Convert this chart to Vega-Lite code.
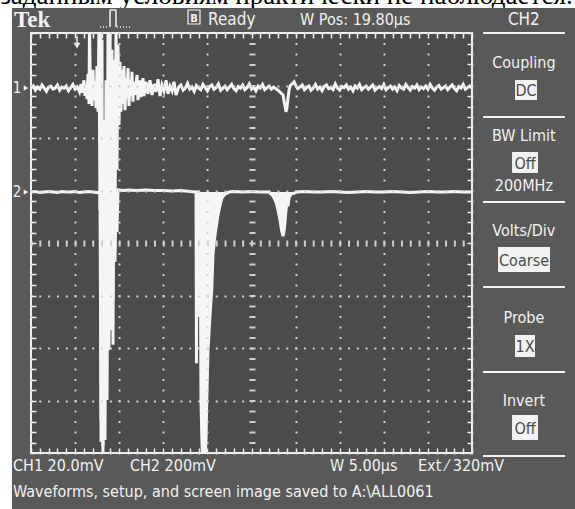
{
"$schema":"https://vega.github.io/schema/vega-lite/v6.json",
"width":441,"height":420,
"autosize":{"type":"none"},
"padding":{"left":31,"top":33,"right":103,"bottom":56},
"background":"#ffffff",
"config":{"view":{"stroke":null},"text":{"font":"DejaVu Sans Condensed, Roboto, sans-serif","color":"#f2f2f2","baseline":"alphabetic"}},
"data":{"values":[{}]},
"datasets":{
"ch1":[{"t":0,"v":2.95},{"t":0.25,"v":2.99},{"t":0.5,"v":2.91},{"t":0.75,"v":2.97},{"t":1,"v":2.93},{"t":1.25,"v":3.01},{"t":1.5,"v":2.95},{"t":1.75,"v":2.89},{"t":2,"v":2.97},{"t":2.25,"v":2.99},{"t":2.5,"v":2.93},{"t":2.75,"v":2.95},{"t":3,"v":3.01},{"t":3.25,"v":2.91},{"t":3.5,"v":2.97},{"t":3.75,"v":2.95},{"t":4,"v":2.99},{"t":4.25,"v":2.9},{"t":4.5,"v":2.96},{"t":4.75,"v":3.02},{"t":5,"v":2.93},{"t":5.25,"v":2.97},{"t":5.5,"v":2.88},
{"t":5.67,"v":3.03},{"t":5.78,"v":2.86},{"t":5.9,"v":2.97},{"t":6.01,"v":3.1},{"t":6.12,"v":2.8},{"t":6.24,"v":3.01},{"t":6.35,"v":2.74},{"t":6.46,"v":3.22},{"t":6.58,"v":2.65},{"t":6.63,"v":4.2},{"t":6.75,"v":2.67},{"t":6.8,"v":3.18},{"t":6.92,"v":2.61},{"t":7.03,"v":3.3},{"t":7.14,"v":2.72},{"t":7.26,"v":3.07},{"t":7.37,"v":2.57},{"t":7.48,"v":3.37},{"t":7.6,"v":2.5},{"t":7.71,"v":4.2},{"t":7.82,"v":0.63},{"t":7.88,"v":4.2},{"t":7.94,"v":-3.79},{"t":8.05,"v":3.87},{"t":8.16,"v":-3.87},{"t":8.28,"v":2.34},{"t":8.39,"v":-2.8},{"t":8.5,"v":3.1},{"t":8.62,"v":-1.09},{"t":8.73,"v":4.2},{"t":8.84,"v":-0.36},{"t":8.96,"v":4.2},{"t":9.07,"v":0.63},{"t":9.18,"v":3.68},{"t":9.3,"v":-1.94},{"t":9.41,"v":3.49},{"t":9.52,"v":-0.13},{"t":9.64,"v":4.2},{"t":9.75,"v":1.39},{"t":9.86,"v":3.77},{"t":9.98,"v":2.25},{"t":10.09,"v":3.45},{"t":10.2,"v":2.5},{"t":10.32,"v":3.3},{"t":10.43,"v":2.65},{"t":10.54,"v":3.37},{"t":10.66,"v":2.53},{"t":10.77,"v":3.14},{"t":10.88,"v":2.76},{"t":11,"v":3.33},{"t":11.11,"v":2.61},{"t":11.22,"v":3.1},{"t":11.34,"v":2.8},{"t":11.45,"v":3.26},{"t":11.56,"v":2.69},{"t":11.68,"v":3.07},{"t":11.79,"v":2.82},{"t":12.02,"v":3.2},{"t":12.13,"v":2.72},{"t":12.36,"v":3.1},{"t":12.47,"v":2.78},{"t":12.7,"v":3.14},{"t":12.81,"v":2.8},{"t":13.04,"v":3.07},{"t":13.27,"v":2.84},{"t":13.49,"v":3.1},{"t":13.72,"v":2.82},{"t":13.95,"v":3.03},{"t":14.17,"v":2.88},{"t":14.4,"v":3.12},{"t":14.63,"v":2.8},{"t":14.85,"v":3.01},{"t":15.08,"v":2.9},{"t":15.31,"v":3.1},{"t":15.53,"v":2.84},{"t":15.76,"v":2.99},{"t":15.99,"v":2.9},{"t":16.21,"v":3.07},{"t":16.44,"v":2.82},
{"t":16.75,"v":2.97},{"t":17,"v":3.01},{"t":17.25,"v":2.91},{"t":17.5,"v":2.95},{"t":17.75,"v":3.04},{"t":18,"v":2.93},{"t":18.25,"v":2.97},{"t":18.5,"v":2.89},{"t":18.75,"v":3},{"t":19,"v":2.95},{"t":19.25,"v":2.92},{"t":19.5,"v":3.02},{"t":19.75,"v":2.96},{"t":20,"v":2.9},{"t":20.25,"v":2.98},{"t":20.5,"v":3.01},{"t":20.75,"v":2.93},{"t":21,"v":2.96},{"t":21.25,"v":3.03},{"t":21.5,"v":2.91},{"t":21.75,"v":2.95},{"t":22,"v":2.99},{"t":22.25,"v":2.92},{"t":22.5,"v":2.97},{"t":22.75,"v":3.02},{"t":23,"v":2.94},{"t":23.25,"v":2.9},{"t":23.5,"v":2.98},{"t":23.75,"v":2.95},{"t":24,"v":3.01},{"t":24.25,"v":2.92},{"t":24.5,"v":2.96},{"t":24.75,"v":3.03},{"t":25,"v":2.93},{"t":25.25,"v":2.97},{"t":25.5,"v":2.9},{"t":25.75,"v":2.99},{"t":26,"v":2.95},{"t":26.25,"v":3.02},{"t":26.5,"v":2.92},{"t":26.75,"v":2.96},{"t":27,"v":2.99},{"t":27.25,"v":2.93},{"t":27.5,"v":2.97},{"t":27.75,"v":2.94},{"t":28,"v":2.91},
{"t":28.57,"v":2.82},{"t":28.68,"v":2.72},{"t":28.8,"v":2.61},{"t":28.91,"v":2.5},{"t":29.02,"v":2.57},{"t":29.14,"v":2.76},{"t":29.25,"v":2.91},{"t":29.37,"v":2.99},{"t":29.59,"v":3.03},{"t":29.82,"v":3.07},{"t":30.05,"v":2.99},
{"t":30.25,"v":2.94},{"t":30.5,"v":2.97},{"t":30.75,"v":3.01},{"t":31,"v":2.92},{"t":31.25,"v":2.96},{"t":31.5,"v":2.99},{"t":31.75,"v":2.91},{"t":32,"v":2.95},{"t":32.25,"v":3.02},{"t":32.5,"v":2.93},{"t":32.75,"v":2.97},{"t":33,"v":2.9},{"t":33.25,"v":2.98},{"t":33.5,"v":3.01},{"t":33.75,"v":2.94},{"t":34,"v":2.96},{"t":34.25,"v":2.92},{"t":34.5,"v":3.03},{"t":34.75,"v":2.95},{"t":35,"v":2.91},{"t":35.25,"v":2.98},{"t":35.5,"v":2.96},{"t":35.75,"v":3.01},{"t":36,"v":2.93},{"t":36.25,"v":2.97},{"t":36.5,"v":2.9},{"t":36.75,"v":2.99},{"t":37,"v":2.95},{"t":37.25,"v":3.02},{"t":37.5,"v":2.92},{"t":37.75,"v":2.96},{"t":38,"v":2.99},{"t":38.25,"v":2.93},{"t":38.5,"v":2.97},{"t":38.75,"v":3.01},{"t":39,"v":2.91},{"t":39.25,"v":2.95},{"t":39.5,"v":2.98},{"t":39.75,"v":2.94},{"t":40,"v":3.02},{"t":40.25,"v":2.92},{"t":40.5,"v":2.96},{"t":40.75,"v":2.99},{"t":41,"v":2.93},{"t":41.25,"v":2.97},{"t":41.5,"v":2.9},{"t":41.75,"v":3},{"t":42,"v":2.95},{"t":42.25,"v":2.93},{"t":42.5,"v":3.02},{"t":42.75,"v":2.96},{"t":43,"v":2.91},{"t":43.25,"v":2.98},{"t":43.5,"v":2.95},{"t":43.75,"v":3.01},{"t":44,"v":2.92},{"t":44.25,"v":2.97},{"t":44.5,"v":2.94},{"t":44.75,"v":2.99},{"t":45,"v":2.93},{"t":45.25,"v":3.02},{"t":45.5,"v":2.95},{"t":45.75,"v":2.91},{"t":46,"v":2.97},{"t":46.25,"v":3},{"t":46.5,"v":2.93},{"t":46.75,"v":2.96},{"t":47,"v":2.99},{"t":47.25,"v":2.92},{"t":47.5,"v":2.97},{"t":47.75,"v":3.01},{"t":48,"v":2.94},{"t":48.25,"v":2.9},{"t":48.5,"v":2.98},{"t":48.75,"v":2.95},{"t":49,"v":3.02},{"t":49.25,"v":2.93},{"t":49.5,"v":2.96},{"t":49.75,"v":2.99},{"t":50,"v":2.95}],
"ch2":[{"t":0,"v":0.97},{"t":0.5,"v":0.98},{"t":1,"v":0.96},{"t":1.5,"v":0.97},{"t":2,"v":0.98},{"t":2.5,"v":0.97},{"t":3,"v":0.96},{"t":3.5,"v":0.98},{"t":4,"v":0.97},{"t":4.5,"v":0.97},{"t":5,"v":0.98},{"t":5.5,"v":0.96},{"t":6,"v":0.97},{"t":6.5,"v":0.98},{"t":7,"v":0.97},{"t":7.5,"v":0.96},{"t":7.7,"v":0.97},
{"t":7.82,"v":0.97},{"t":7.94,"v":-3.37},{"t":8.05,"v":-1.09},{"t":8.16,"v":-3.98},{"t":8.28,"v":0.82},{"t":8.39,"v":-3.75},{"t":8.5,"v":-0.32},{"t":8.62,"v":-2.99},{"t":8.73,"v":0.97},{"t":8.84,"v":-2.04},{"t":8.96,"v":1.01},{"t":9.07,"v":-1.66},{"t":9.18,"v":0.97},{"t":9.3,"v":-1.09},{"t":9.41,"v":0.97},{"t":9.52,"v":-0.36},{"t":9.64,"v":0.97},{"t":9.75,"v":0.21},{"t":9.86,"v":1.01},
{"t":10.5,"v":1},{"t":11,"v":1.01},{"t":12,"v":1},{"t":13,"v":1.01},{"t":14,"v":1},{"t":15,"v":1},{"t":16,"v":0.99},{"t":17,"v":1},{"t":18,"v":0.98},{"t":18.6,"v":0.97},{"t":18.71,"v":0.97},{"t":18.76,"v":-2.29},{"t":18.82,"v":0.97},{"t":18.99,"v":0.97},{"t":19.05,"v":-1.41},{"t":19.1,"v":0.97},{"t":19.16,"v":0.9},{"t":19.22,"v":-1.09},{"t":19.27,"v":-2.99},{"t":19.39,"v":-3.85},{"t":19.5,"v":-4.13},{"t":19.73,"v":-4.13},{"t":19.84,"v":-3.75},{"t":19.92,"v":-3.05},{"t":20.07,"v":-2.04},{"t":20.3,"v":-1.37},{"t":20.49,"v":-0.9},{"t":20.63,"v":-0.23},{"t":20.86,"v":0.15},{"t":21.2,"v":0.53},{"t":21.43,"v":0.72},{"t":21.66,"v":0.86},{"t":22,"v":0.93},{"t":22.45,"v":0.97},{"t":23,"v":0.98},{"t":24,"v":0.97},{"t":25,"v":0.98},{"t":26,"v":0.97},{"t":27,"v":0.97},
{"t":27.1,"v":0.95},{"t":27.44,"v":0.9},{"t":27.78,"v":0.78},{"t":28,"v":0.63},{"t":28.23,"v":0.44},{"t":28.4,"v":0.25},{"t":28.57,"v":0.13},{"t":28.68,"v":0.21},{"t":28.8,"v":0.4},{"t":28.91,"v":0.63},{"t":29.02,"v":0.76},{"t":29.14,"v":0.7},{"t":29.25,"v":0.86},{"t":29.48,"v":0.93},{"t":29.82,"v":0.95},{"t":30.16,"v":0.97},{"t":31,"v":0.98},{"t":32,"v":0.97},{"t":33,"v":0.97},{"t":34,"v":0.98},{"t":35,"v":0.97},{"t":36,"v":0.96},{"t":37,"v":0.97},{"t":38,"v":0.98},{"t":39,"v":0.97},{"t":40,"v":0.97},{"t":41,"v":0.98},{"t":42,"v":0.97},{"t":43,"v":0.96},{"t":44,"v":0.97},{"t":45,"v":0.98},{"t":46,"v":0.97},{"t":47,"v":0.97},{"t":48,"v":0.98},{"t":49,"v":0.97},{"t":50,"v":0.97}]
},
"resolve":{"axis":{"x":"independent","y":"independent"}},
"layer":[
{"mark":{"type":"text","text":"заданным условиям практически не наблюдается.","font":"Liberation Serif","fontSize":27,"color":"#000000","align":"left"},"encoding":{"x":{"datum":-3.5,"type":"quantitative","scale":{"domain":[0,50]},"axis":null},"y":{"datum":4.55,"type":"quantitative","scale":{"domain":[-4,4]},"axis":null}}},
{"mark":{"type":"rect","fill":"#595959"},"encoding":{"x":{"datum":-2.154,"type":"quantitative","scale":{"domain":[0,50]},"axis":null},"x2":{"datum":63},"y":{"datum":4.476,"type":"quantitative","scale":{"domain":[-4,4]},"axis":null},"y2":{"datum":-6}}},
{"mark":{"type":"rect","fill":"#4b4b4b","stroke":"#f0f0f0","strokeWidth":2},"encoding":{"x":{"datum":0,"type":"quantitative","scale":{"domain":[0,50]},"axis":null},"x2":{"datum":50},"y":{"datum":4,"type":"quantitative","scale":{"domain":[-4,4]},"axis":null},"y2":{"datum":-4}}},
{"mark":{"type":"point","opacity":0},"encoding":{
"x":{"datum":0,"type":"quantitative","scale":{"domain":[0,50]},"axis":{"orient":"bottom","values":[0,1,2,3,4,5,6,7,8,9,10,11,12,13,14,15,16,17,18,19,20,21,22,23,24,25,26,27,28,29,30,31,32,33,34,35,36,37,38,39,40,41,42,43,44,45,46,47,48,49,50],"labels":false,"domain":false,"title":null,"tickSize":-5,"tickColor":"#eeeeee","tickWidth":1.5,"grid":true,"gridColor":"#d2d2d2","gridDash":[2,8.5],"gridDashOffset":1,"gridWidth":{"condition":{"test":"datum.value===25","value":6},"value":2},"gridOpacity":{"condition":{"test":"datum.value%5===0","value":1},"value":0},"zindex":1}},
"y":{"datum":0,"type":"quantitative","scale":{"domain":[-4,4]},"axis":{"orient":"left","values":[-4,-3.8,-3.6,-3.4,-3.2,-3,-2.8,-2.6,-2.4,-2.2,-2,-1.8,-1.6,-1.4,-1.2,-1,-0.8,-0.6,-0.4,-0.2,0,0.2,0.4,0.6,0.8,1,1.2,1.4,1.6,1.8,2,2.2,2.4,2.6,2.8,3,3.2,3.4,3.6,3.8,4],"labels":false,"domain":false,"title":null,"tickSize":-5,"tickColor":"#eeeeee","tickWidth":1.5,"grid":true,"gridColor":"#d2d2d2","gridDash":[2,6.82],"gridDashOffset":1,"gridWidth":{"condition":{"test":"datum.value===0","value":6},"value":2},"gridOpacity":{"condition":{"test":"datum.value%1===0","value":1},"value":0},"zindex":1}}}},
{"mark":{"type":"point","opacity":0},"encoding":{
"x":{"datum":0,"type":"quantitative","scale":{"domain":[0,50]},"axis":{"orient":"top","values":[0,1,2,3,4,5,6,7,8,9,10,11,12,13,14,15,16,17,18,19,20,21,22,23,24,25,26,27,28,29,30,31,32,33,34,35,36,37,38,39,40,41,42,43,44,45,46,47,48,49,50],"labels":false,"domain":false,"title":null,"tickSize":-5,"tickColor":"#eeeeee","tickWidth":1.5,"grid":false,"zindex":1}},
"y":{"datum":0,"type":"quantitative","scale":{"domain":[-4,4]},"axis":{"orient":"right","values":[-4,-3.8,-3.6,-3.4,-3.2,-3,-2.8,-2.6,-2.4,-2.2,-2,-1.8,-1.6,-1.4,-1.2,-1,-0.8,-0.6,-0.4,-0.2,0,0.2,0.4,0.6,0.8,1,1.2,1.4,1.6,1.8,2,2.2,2.4,2.6,2.8,3,3.2,3.4,3.6,3.8,4],"labels":false,"domain":false,"title":null,"tickSize":-5,"tickColor":"#eeeeee","tickWidth":1.5,"grid":false,"zindex":1}}}},
{"data":{"name":"ch2"},"transform":[{"filter":"(datum.t>=19.16 && datum.t<=22.45) || (datum.t>=27.1 && datum.t<=30.16)"}],"mark":{"type":"area","color":"#f5f5f5","clip":true},"encoding":{"x":{"field":"t","type":"quantitative","scale":{"domain":[0,50]},"axis":null},"y":{"field":"v","type":"quantitative","scale":{"domain":[-4,4]},"axis":null},"y2":{"datum":0.97}}},
{"data":{"name":"ch1"},"mark":{"type":"line","color":"#f5f5f5","strokeWidth":3,"clip":true},"encoding":{"x":{"field":"t","type":"quantitative","scale":{"domain":[0,50]},"axis":null},"y":{"field":"v","type":"quantitative","scale":{"domain":[-4,4]},"axis":null}}},
{"data":{"name":"ch2"},"mark":{"type":"line","color":"#f5f5f5","strokeWidth":3,"clip":true},"encoding":{"x":{"field":"t","type":"quantitative","scale":{"domain":[0,50]},"axis":null},"y":{"field":"v","type":"quantitative","scale":{"domain":[-4,4]},"axis":null}}},
{"mark":{"type":"text","text":"Tek","font":"Liberation Serif","fontWeight":"bold","fontSize":23,"align":"left"},"encoding":{"x":{"datum":-1.927,"type":"quantitative","scale":{"domain":[0,50]},"axis":null},"y":{"datum":4.114,"type":"quantitative","scale":{"domain":[-4,4]},"axis":null}}},
{"mark":{"type":"rule","color":"#f2f2f2","strokeWidth":1.5,"strokeDash":[1,2]},"encoding":{"x":{"datum":7.82,"type":"quantitative","scale":{"domain":[0,50]},"axis":null},"x2":{"datum":8.84},"y":{"datum":4.114,"type":"quantitative","scale":{"domain":[-4,4]},"axis":null}}},
{"mark":{"type":"rule","color":"#f2f2f2","strokeWidth":1.5},"encoding":{"x":{"datum":8.957,"type":"quantitative","scale":{"domain":[0,50]},"axis":null},"y":{"datum":4.114,"type":"quantitative","scale":{"domain":[-4,4]},"axis":null},"y2":{"datum":4.438}}},
{"mark":{"type":"rule","color":"#f2f2f2","strokeWidth":1.5},"encoding":{"x":{"datum":8.957,"type":"quantitative","scale":{"domain":[0,50]},"axis":null},"x2":{"datum":9.637},"y":{"datum":4.438,"type":"quantitative","scale":{"domain":[-4,4]},"axis":null}}},
{"mark":{"type":"rule","color":"#f2f2f2","strokeWidth":1.5},"encoding":{"x":{"datum":9.637,"type":"quantitative","scale":{"domain":[0,50]},"axis":null},"y":{"datum":4.114,"type":"quantitative","scale":{"domain":[-4,4]},"axis":null},"y2":{"datum":4.438}}},
{"mark":{"type":"rule","color":"#f2f2f2","strokeWidth":1.5,"strokeDash":[1,2]},"encoding":{"x":{"datum":9.75,"type":"quantitative","scale":{"domain":[0,50]},"axis":null},"x2":{"datum":11.45},"y":{"datum":4.114,"type":"quantitative","scale":{"domain":[-4,4]},"axis":null}}},
{"mark":{"type":"rect","fill":null,"stroke":"#f2f2f2","strokeWidth":1.2},"encoding":{"x":{"datum":17.8,"type":"quantitative","scale":{"domain":[0,50]},"axis":null},"x2":{"datum":19.16},"y":{"datum":4.438,"type":"quantitative","scale":{"domain":[-4,4]},"axis":null},"y2":{"datum":4.171}}},
{"mark":{"type":"text","text":"B","fontWeight":"bold","fontSize":11,"align":"center"},"encoding":{"x":{"datum":18.48,"type":"quantitative","scale":{"domain":[0,50]},"axis":null},"y":{"datum":4.21,"type":"quantitative","scale":{"domain":[-4,4]},"axis":null}}},
{"mark":{"type":"text","text":"Ready","fontSize":17,"align":"left"},"encoding":{"x":{"datum":20.07,"type":"quantitative","scale":{"domain":[0,50]},"axis":null},"y":{"datum":4.152,"type":"quantitative","scale":{"domain":[-4,4]},"axis":null}}},
{"mark":{"type":"text","text":"W Pos: 19.80µs","fontSize":16,"align":"left"},"encoding":{"x":{"datum":30.5,"type":"quantitative","scale":{"domain":[0,50]},"axis":null},"y":{"datum":4.152,"type":"quantitative","scale":{"domain":[-4,4]},"axis":null}}},
{"mark":{"type":"text","text":"CH2","fontSize":17,"align":"center"},"encoding":{"x":{"datum":55.88,"type":"quantitative","scale":{"domain":[0,50]},"axis":null},"y":{"datum":4.152,"type":"quantitative","scale":{"domain":[-4,4]},"axis":null}}},
{"mark":{"type":"text","text":"1","fontSize":15,"align":"center"},"encoding":{"x":{"datum":-1.587,"type":"quantitative","scale":{"domain":[0,50]},"axis":null},"y":{"datum":2.857,"type":"quantitative","scale":{"domain":[-4,4]},"axis":null}}},
{"mark":{"type":"text","text":"2","fontSize":15,"align":"center"},"encoding":{"x":{"datum":-1.587,"type":"quantitative","scale":{"domain":[0,50]},"axis":null},"y":{"datum":0.876,"type":"quantitative","scale":{"domain":[-4,4]},"axis":null}}},
{"mark":{"type":"point","shape":"triangle-right","filled":true,"size":28,"color":"#f2f2f2","opacity":1},"encoding":{"x":{"datum":-0.567,"type":"quantitative","scale":{"domain":[0,50]},"axis":null},"y":{"datum":2.952,"type":"quantitative","scale":{"domain":[-4,4]},"axis":null}}},
{"mark":{"type":"point","shape":"triangle-right","filled":true,"size":28,"color":"#f2f2f2","opacity":1},"encoding":{"x":{"datum":-0.567,"type":"quantitative","scale":{"domain":[0,50]},"axis":null},"y":{"datum":0.971,"type":"quantitative","scale":{"domain":[-4,4]},"axis":null}}},
{"mark":{"type":"point","shape":"triangle-down","filled":true,"size":45,"color":"#f2f2f2","opacity":1},"encoding":{"x":{"datum":5.215,"type":"quantitative","scale":{"domain":[0,50]},"axis":null},"y":{"datum":3.76,"type":"quantitative","scale":{"domain":[-4,4]},"axis":null}}},
{"mark":{"type":"rule","color":"#f2f2f2","strokeWidth":1.5},"encoding":{"x":{"datum":5.215,"type":"quantitative","scale":{"domain":[0,50]},"axis":null},"y":{"datum":3.95,"type":"quantitative","scale":{"domain":[-4,4]},"axis":null},"y2":{"datum":3.8}}},
{"mark":{"type":"text","text":"CH1  20.0mV","fontSize":16,"align":"left"},"encoding":{"x":{"datum":-2.041,"type":"quantitative","scale":{"domain":[0,50]},"axis":null},"y":{"datum":-4.343,"type":"quantitative","scale":{"domain":[-4,4]},"axis":null}}},
{"mark":{"type":"text","text":"CH2  200mV","fontSize":16,"align":"left"},"encoding":{"x":{"datum":11.22,"type":"quantitative","scale":{"domain":[0,50]},"axis":null},"y":{"datum":-4.343,"type":"quantitative","scale":{"domain":[-4,4]},"axis":null}}},
{"mark":{"type":"text","text":"W 5.00µs","fontSize":16,"align":"left"},"encoding":{"x":{"datum":33.9,"type":"quantitative","scale":{"domain":[0,50]},"axis":null},"y":{"datum":-4.343,"type":"quantitative","scale":{"domain":[-4,4]},"axis":null}}},
{"mark":{"type":"text","text":"Ext ⁄ 320mV","fontSize":16,"align":"left"},"encoding":{"x":{"datum":43.88,"type":"quantitative","scale":{"domain":[0,50]},"axis":null},"y":{"datum":-4.343,"type":"quantitative","scale":{"domain":[-4,4]},"axis":null}}},
{"mark":{"type":"text","text":"Waveforms, setup, and screen image saved to A:\\ALL0061","fontSize":16,"align":"left"},"encoding":{"x":{"datum":-2.041,"type":"quantitative","scale":{"domain":[0,50]},"axis":null},"y":{"datum":-4.838,"type":"quantitative","scale":{"domain":[-4,4]},"axis":null}}},
{"mark":{"type":"rule","color":"#f2f2f2","strokeWidth":2},"encoding":{"x":{"datum":51.25,"type":"quantitative","scale":{"domain":[0,50]},"axis":null},"x2":{"datum":60.54},"y":{"datum":4,"type":"quantitative","scale":{"domain":[-4,4]},"axis":null}}},
{"mark":{"type":"rule","color":"#f2f2f2","strokeWidth":2},"encoding":{"x":{"datum":51.25,"type":"quantitative","scale":{"domain":[0,50]},"axis":null},"x2":{"datum":60.54},"y":{"datum":2.4,"type":"quantitative","scale":{"domain":[-4,4]},"axis":null}}},
{"mark":{"type":"rule","color":"#f2f2f2","strokeWidth":2},"encoding":{"x":{"datum":51.25,"type":"quantitative","scale":{"domain":[0,50]},"axis":null},"x2":{"datum":60.54},"y":{"datum":0.781,"type":"quantitative","scale":{"domain":[-4,4]},"axis":null}}},
{"mark":{"type":"rule","color":"#f2f2f2","strokeWidth":2},"encoding":{"x":{"datum":51.25,"type":"quantitative","scale":{"domain":[0,50]},"axis":null},"x2":{"datum":60.54},"y":{"datum":-0.838,"type":"quantitative","scale":{"domain":[-4,4]},"axis":null}}},
{"mark":{"type":"rule","color":"#f2f2f2","strokeWidth":2},"encoding":{"x":{"datum":51.25,"type":"quantitative","scale":{"domain":[0,50]},"axis":null},"x2":{"datum":60.54},"y":{"datum":-2.457,"type":"quantitative","scale":{"domain":[-4,4]},"axis":null}}},
{"mark":{"type":"rule","color":"#f2f2f2","strokeWidth":2},"encoding":{"x":{"datum":51.25,"type":"quantitative","scale":{"domain":[0,50]},"axis":null},"x2":{"datum":60.54},"y":{"datum":-4.057,"type":"quantitative","scale":{"domain":[-4,4]},"axis":null}}},
{"mark":{"type":"text","text":"Coupling","fontSize":16,"align":"center"},"encoding":{"x":{"datum":55.88,"type":"quantitative","scale":{"domain":[0,50]},"axis":null},"y":{"datum":3.333,"type":"quantitative","scale":{"domain":[-4,4]},"axis":null}}},
{"mark":{"type":"rect","fill":"#f2f2f2"},"encoding":{"x":{"datum":54.88,"type":"quantitative","scale":{"domain":[0,50]},"axis":null},"x2":{"datum":57.37},"y":{"datum":3.105,"type":"quantitative","scale":{"domain":[-4,4]},"axis":null},"y2":{"datum":2.724}}},
{"mark":{"type":"text","text":"DC","fontSize":16,"color":"#4a4a4a","align":"center"},"encoding":{"x":{"datum":56.12,"type":"quantitative","scale":{"domain":[0,50]},"axis":null},"y":{"datum":2.8,"type":"quantitative","scale":{"domain":[-4,4]},"axis":null}}},
{"mark":{"type":"text","text":"BW Limit","fontSize":16,"align":"center"},"encoding":{"x":{"datum":55.88,"type":"quantitative","scale":{"domain":[0,50]},"axis":null},"y":{"datum":1.943,"type":"quantitative","scale":{"domain":[-4,4]},"axis":null}}},
{"mark":{"type":"rect","fill":"#f2f2f2"},"encoding":{"x":{"datum":54.54,"type":"quantitative","scale":{"domain":[0,50]},"axis":null},"x2":{"datum":57.48},"y":{"datum":1.733,"type":"quantitative","scale":{"domain":[-4,4]},"axis":null},"y2":{"datum":1.333}}},
{"mark":{"type":"text","text":"Off","fontSize":16,"color":"#4a4a4a","align":"center"},"encoding":{"x":{"datum":56.01,"type":"quantitative","scale":{"domain":[0,50]},"axis":null},"y":{"datum":1.41,"type":"quantitative","scale":{"domain":[-4,4]},"axis":null}}},
{"mark":{"type":"text","text":"200MHz","fontSize":16,"align":"center"},"encoding":{"x":{"datum":55.88,"type":"quantitative","scale":{"domain":[0,50]},"axis":null},"y":{"datum":0.99,"type":"quantitative","scale":{"domain":[-4,4]},"axis":null}}},
{"mark":{"type":"text","text":"Volts/Div","fontSize":16,"align":"center"},"encoding":{"x":{"datum":55.88,"type":"quantitative","scale":{"domain":[0,50]},"axis":null},"y":{"datum":0.133,"type":"quantitative","scale":{"domain":[-4,4]},"axis":null}}},
{"mark":{"type":"rect","fill":"#f2f2f2"},"encoding":{"x":{"datum":52.95,"type":"quantitative","scale":{"domain":[0,50]},"axis":null},"x2":{"datum":58.84},"y":{"datum":-0.076,"type":"quantitative","scale":{"domain":[-4,4]},"axis":null},"y2":{"datum":-0.552}}},
{"mark":{"type":"text","text":"Coarse","fontSize":16,"color":"#4a4a4a","align":"center"},"encoding":{"x":{"datum":55.9,"type":"quantitative","scale":{"domain":[0,50]},"axis":null},"y":{"datum":-0.438,"type":"quantitative","scale":{"domain":[-4,4]},"axis":null}}},
{"mark":{"type":"text","text":"Probe","fontSize":16,"align":"center"},"encoding":{"x":{"datum":55.88,"type":"quantitative","scale":{"domain":[0,50]},"axis":null},"y":{"datum":-1.524,"type":"quantitative","scale":{"domain":[-4,4]},"axis":null}}},
{"mark":{"type":"rect","fill":"#f2f2f2"},"encoding":{"x":{"datum":54.88,"type":"quantitative","scale":{"domain":[0,50]},"axis":null},"x2":{"datum":57.14},"y":{"datum":-1.752,"type":"quantitative","scale":{"domain":[-4,4]},"axis":null},"y2":{"datum":-2.171}}},
{"mark":{"type":"text","text":"1X","fontSize":16,"color":"#4a4a4a","align":"center"},"encoding":{"x":{"datum":56.01,"type":"quantitative","scale":{"domain":[0,50]},"axis":null},"y":{"datum":-2.076,"type":"quantitative","scale":{"domain":[-4,4]},"axis":null}}},
{"mark":{"type":"text","text":"Invert","fontSize":16,"align":"center"},"encoding":{"x":{"datum":55.88,"type":"quantitative","scale":{"domain":[0,50]},"axis":null},"y":{"datum":-3.105,"type":"quantitative","scale":{"domain":[-4,4]},"axis":null}}},
{"mark":{"type":"rect","fill":"#f2f2f2"},"encoding":{"x":{"datum":54.54,"type":"quantitative","scale":{"domain":[0,50]},"axis":null},"x2":{"datum":57.48},"y":{"datum":-3.276,"type":"quantitative","scale":{"domain":[-4,4]},"axis":null},"y2":{"datum":-3.752}}},
{"mark":{"type":"text","text":"Off","fontSize":16,"color":"#4a4a4a","align":"center"},"encoding":{"x":{"datum":56.01,"type":"quantitative","scale":{"domain":[0,50]},"axis":null},"y":{"datum":-3.647,"type":"quantitative","scale":{"domain":[-4,4]},"axis":null}}}
]
}
